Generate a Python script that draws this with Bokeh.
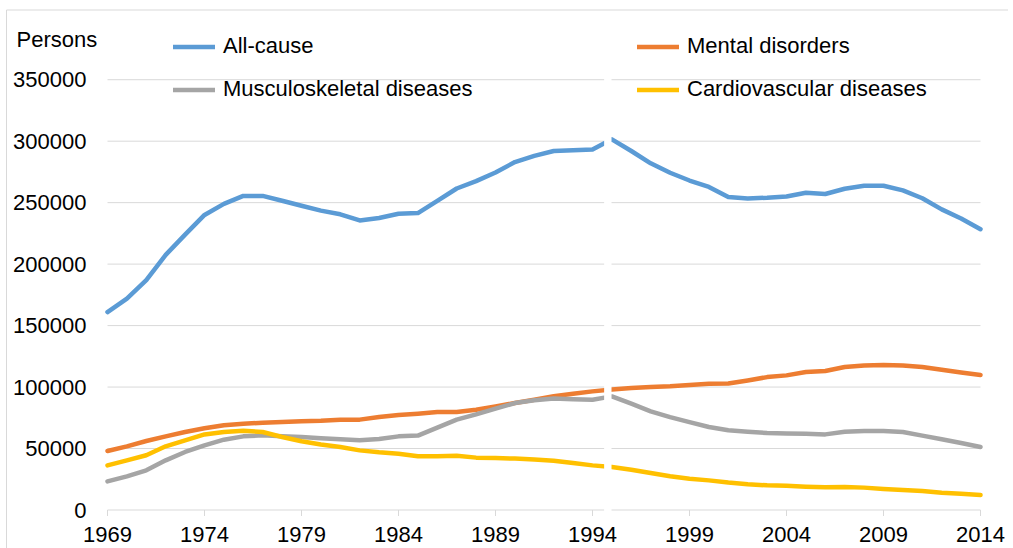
from bokeh.plotting import figure
from bokeh.models import (Range1d, Legend, LegendItem, BoxAnnotation)
from bokeh.core.properties import value
from bokeh.embed import file_html
from bokeh.resources import INLINE

years = list(range(1969, 2015))

all_cause = [161000, 172000, 187000, 207500, 224000, 240000, 249000, 255500, 255500, 251500,
             247500, 243500, 240500, 235500, 237500, 241000, 241500, 251500, 261500, 267500,
             274500, 283000, 288000, 292000, 292700, 293300, 301500, 292000, 282000, 274300,
             268000, 262800, 254500, 253400, 254000, 255000, 258000, 257000, 261300, 263700,
             263700, 260000, 253600, 244500, 237100, 228400]

mental = [48000, 51800, 56100, 59900, 63400, 66500, 68900, 70200, 71000, 71500,
          72100, 72600, 73500, 73500, 75600, 77200, 78300, 79700, 79700, 81600,
          84300, 87000, 89700, 92600, 94600, 96500, 98100, 99200, 100000, 100600,
          101600, 102700, 102900, 105400, 108100, 109500, 112200, 113000, 116300, 117600,
          117900, 117600, 116300, 114100, 111900, 109800]

musculo = [23300, 27400, 32300, 40400, 47200, 52600, 57200, 59900, 60700, 59900,
           59400, 58300, 57500, 56700, 57700, 59900, 60500, 67000, 73500, 77800,
           82400, 87000, 89200, 90600, 90000, 89700, 92400, 86500, 80200, 75600,
           71500, 67500, 64800, 63700, 62600, 62300, 62000, 61500, 63700, 64200,
           64200, 63400, 60500, 57500, 54500, 51200]

cardio = [36300, 40400, 44500, 51800, 56700, 61500, 63400, 64500, 63400, 59400,
          55900, 53300, 51200, 48500, 46900, 45800, 43700, 43700, 44200, 42600,
          42300, 41800, 41000, 40100, 38200, 36300, 35000, 32800, 30100, 27400,
          25500, 24100, 22300, 20900, 20100, 19800, 19000, 18500, 18700, 18200,
          17100, 16300, 15400, 14100, 13300, 12200]

series_names = ["All-cause", "Mental disorders", "Musculoskeletal diseases", "Cardiovascular diseases"]
colors = ["#5B9BD5", "#ED7D31", "#A5A5A5", "#FFC000"]
x_ticks = [1969, 1974, 1979, 1984, 1989, 1994, 1999, 2004, 2009, 2014]
x_tick_labels = [str(v) for v in x_ticks]
y_ticks = [0, 50000, 100000, 150000, 200000, 250000, 300000, 350000]
y_tick_labels = [str(v) for v in y_ticks]
y_title = "Persons"

FONT = "Liberation Sans"
FS = "22px"

W, H = 1008, 548
X0, X1 = 1969, 2014
PX_PER_YEAR = 19.4          # horizontal scale (px per year)
UNITS_PER_PX = 813.4        # vertical scale (persons per px)
FRAME_LEFT_PX = 107         # pixel of 1969
ZERO_PX = 509.5             # pixel of y = 0

x_start = X0 - FRAME_LEFT_PX / PX_PER_YEAR
x_end = x_start + W / PX_PER_YEAR
y_end = ZERO_PX * UNITS_PER_PX
y_start = -(H - ZERO_PX) * UNITS_PER_PX

def dx(px):
    return px / PX_PER_YEAR

def dy(px):
    return px * UNITS_PER_PX

p = figure(width=W, height=H, output_backend="svg", toolbar_location=None,
           x_range=Range1d(x_start, x_end), y_range=Range1d(y_start, y_end),
           min_border=0, min_border_left=0, min_border_right=0,
           min_border_top=0, min_border_bottom=0)
p.outline_line_color = None
p.background_fill_color = "white"
p.border_fill_color = "white"
p.xgrid.visible = False
p.ygrid.visible = False
p.xaxis.visible = False
p.yaxis.visible = False

# light chart-area border (top and left edges)
p.segment(x0=[x_start + dx(6), x_start + dx(6)], x1=[x_end, x_start + dx(6)],
          y0=[dy(ZERO_PX - 9.5), dy(ZERO_PX - 9.5)], y1=[dy(ZERO_PX - 9.5), y_start],
          line_color="#D9D9D9", line_width=1)

# horizontal gridlines over the plotted year span
p.segment(x0=[X0] * len(y_ticks), x1=[X1] * len(y_ticks), y0=y_ticks, y1=y_ticks,
          line_color="#D9D9D9", line_width=1)

# x tick marks below the zero line
p.segment(x0=x_ticks, x1=x_ticks, y0=[0] * len(x_ticks), y1=[-dy(6)] * len(x_ticks),
          line_color="#D9D9D9", line_width=1)

# x tick labels
p.text(x=x_ticks, y=[-dy(533.5 - ZERO_PX)] * len(x_ticks), text=x_tick_labels,
       text_font=value(FONT), text_font_size=value(FS), text_color="black",
       text_align="center", text_baseline="middle")

# y tick labels
p.text(x=[X0 - dx(21)] * len(y_ticks), y=y_ticks, text=y_tick_labels,
       text_font=value(FONT), text_font_size=value(FS), text_color="black",
       text_align="right", text_baseline="middle")

# axis title
p.text(x=[x_start + dx(16)], y=[dy(ZERO_PX - 38.5)], text=[y_title],
       text_font=value(FONT), text_font_size=value(FS), text_color="black",
       text_align="left", text_baseline="middle")

renderers = []
for vals, c in zip([all_cause, mental, musculo, cardio], colors):
    r = p.line(years, vals, line_color=c, line_width=4.5, line_join="round", line_cap="round")
    renderers.append(r)

# white break between 1994 and 1995
p.add_layout(BoxAnnotation(left=1994.6, right=1994.98, bottom=-dy(1.2), top=dy(ZERO_PX - 12),
                           fill_color="white", fill_alpha=1.0, line_alpha=0))

def make_legend(idx, loc):
    return Legend(items=[LegendItem(label=series_names[i], renderers=[renderers[i]]) for i in idx],
                  location=loc, orientation="vertical", padding=0, margin=0, spacing=17,
                  glyph_width=42, glyph_height=25, label_height=25, label_standoff=8,
                  label_text_font=FONT, label_text_font_size=FS, label_text_color="black",
                  background_fill_alpha=0, border_line_alpha=0)

p.add_layout(make_legend([0, 2], (173, H - 102)))
p.add_layout(make_legend([1, 3], (637, H - 102)))

open("out.html", "w").write(file_html(p, INLINE))
